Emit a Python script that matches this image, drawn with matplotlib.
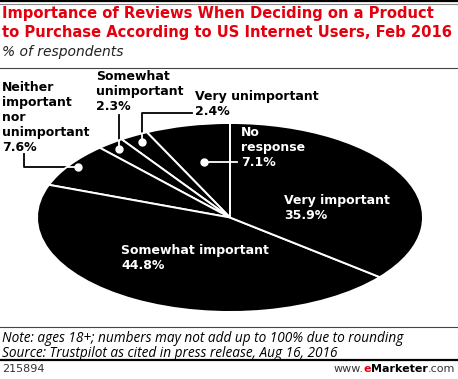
import matplotlib.pyplot as plt
from matplotlib.lines import Line2D
import numpy as np

labels = ["No response", "Very unimportant", "Somewhat unimportant",
          "Neither important nor unimportant", "Somewhat important", "Very important"]
values = [7.1, 2.4, 2.3, 7.6, 44.8, 35.9]

W, H = 458, 379
RED = "#e3000f"


def fx(px):
    return px / W


def fy(py):
    return 1 - py / H


fig = plt.figure(figsize=(W / 100, H / 100), dpi=100)
fig.patch.set_facecolor("white")

# header / footer rules
fig.add_artist(Line2D([0, 1], [fy(1), fy(1)], color="black", lw=1.6))
fig.add_artist(Line2D([0, 1], [fy(3.5), fy(3.5)], color="#888888", lw=0.8))
fig.add_artist(Line2D([0, 1], [fy(67.5), fy(67.5)], color="#444444", lw=0.8))
fig.add_artist(Line2D([0, 1], [fy(327), fy(327)], color="#444444", lw=0.8))
fig.add_artist(Line2D([0, 1], [fy(359.5), fy(359.5)], color="black", lw=1.6))

fig.text(fx(2), fy(18), "Importance of Reviews When Deciding on a Product",
         color=RED, fontsize=10.6, fontweight="bold", va="baseline")
fig.text(fx(2), fy(37), "to Purchase According to US Internet Users, Feb 2016",
         color=RED, fontsize=10.6, fontweight="bold", va="baseline")
fig.text(fx(2), fy(56), "% of respondents", color="#222222", fontsize=10,
         style="italic", va="baseline")

# pie, squashed into an ellipse
ax = fig.add_axes([fx(37), fy(312), 386 / W, 189 / H])
wedges, _ = ax.pie(values, startangle=90, counterclock=True, colors=["black"] * 6,
                   wedgeprops=dict(edgecolor="white", linewidth=1.4))
ax.set_aspect("auto")
ax.set_xlim(-1, 1)
ax.set_ylim(-1, 1)
ax.axis("off")


def dx(px):
    return (px - 37) / 386 * 2 - 1


def dy(py):
    return 1 - (py - 123) / 189 * 2


# dots at the wedge mid-angles
dot_r = [0.6, 0.92, 0.93, 0.95]
dots = []
for w, r in zip(wedges[:4], dot_r):
    a = np.deg2rad((w.theta1 + w.theta2) / 2)
    dots.append((r * np.cos(a), r * np.sin(a)))

leaders = [
    [dots[0], (dx(237), dots[0][1])],
    [dots[1], (dots[1][0], dy(113)), (dx(192), dy(113))],
    [dots[2], (dots[2][0], dy(115))],
    [dots[3], (dx(24), dots[3][1]), (dx(24), dy(154))],
]
for i, pts in enumerate(leaders):
    xs, ys = zip(*pts)
    if i == 0:
        ax.plot(xs, ys, color="white", lw=1.3, clip_on=False, zorder=3)
    else:
        ax.plot(xs, ys, color="black", lw=1.3, clip_on=False, zorder=0.5)
        ln, = ax.plot(xs, ys, color="white", lw=1.3, zorder=3)
        ln.set_clip_path(wedges[i])
for x, y in dots:
    ax.plot(x, y, "o", color="white", ms=5, zorder=4)

lab = dict(fontsize=9, fontweight="bold", va="top", linespacing=1.2)
fig.text(fx(2), fy(81), "Neither\nimportant\nnor\nunimportant\n7.6%", color="black", **lab)
fig.text(fx(96), fy(70), "Somewhat\nunimportant\n2.3%", color="black", **lab)
fig.text(fx(195), fy(90), "Very unimportant\n2.4%", color="black", **lab)
fig.text(fx(241), fy(126), "No\nresponse\n7.1%", color="white", **lab)
fig.text(fx(284), fy(194), "Very important\n35.9%", color="white", **lab)
fig.text(fx(121), fy(244), "Somewhat important\n44.8%", color="white", **lab)

fig.text(fx(2), fy(331), "Note: ages 18+; numbers may not add up to 100% due to rounding\n"
         "Source: Trustpilot as cited in press release, Aug 16, 2016",
         color="black", fontsize=9.8, style="italic", va="top", linespacing=1.0,
         family="Open Sans")

fig.text(fx(2), fy(372), "215894", color="#333333", fontsize=8, va="baseline")
t1 = fig.text(fx(455), fy(372), ".com", color="#333333", fontsize=8, va="baseline", ha="right")
t2 = fig.text(0, 0, "Marketer", color="black", fontsize=8, fontweight="bold")
t3 = fig.text(0, 0, "e", color=RED, fontsize=8, fontweight="bold")
t4 = fig.text(0, 0, "www.", color="#333333", fontsize=8)

fig.canvas.draw()
r = fig.canvas.get_renderer()
x = fx(455)
for t in (t1, t2, t3, t4):
    t.set_position((x, fy(372)))
    t.set_ha("right")
    t.set_va("baseline")
    bb = t.get_window_extent(r)
    x -= bb.width / W

fig.savefig("out.png", dpi=100)
